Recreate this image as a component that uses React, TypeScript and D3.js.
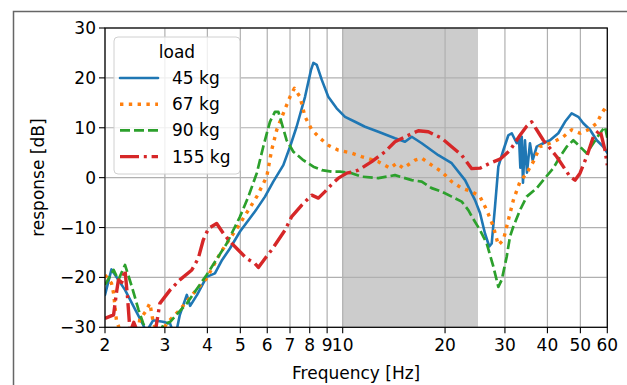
import React from "react";
import * as d3 from "d3";

// ---- data ----
const seriesNames = ["45 kg", "67 kg", "90 kg", "155 kg"];
const xTickValues = [2, 3, 4, 5, 6, 7, 8, 9, 10, 20, 30, 40, 50, 60];
const yTickValues = [-30, -20, -10, 0, 10, 20, 30];
const spanRange = [10, 25];

const load45: [number, number][] = [
  [2.0, -23.5], [2.09, -18.4], [2.29, -22.5], [2.59, -29.5], [2.64, -31], [2.77, -28.6],
  [2.96, -28.9], [3.11, -29.3], [3.17, -31], [3.24, -31], [3.32, -27.5], [3.48, -23.5],
  [3.56, -25.7], [3.73, -23.5], [3.98, -19.9], [4.21, -19.2], [4.42, -16.5], [4.66, -14.2],
  [4.99, -10.8], [5.52, -6.8], [5.91, -3.8], [6.25, -0.8], [6.69, 2.5], [7.0, 6.2],
  [7.32, 10.2], [7.75, 16.2], [8.07, 21.6], [8.2, 23.0], [8.39, 22.6], [8.68, 19.6],
  [9.07, 16.2], [9.6, 13.9], [10.16, 12.2], [10.87, 11.2], [11.63, 10.2], [12.73, 9.2],
  [14.25, 7.9], [15.25, 7.2], [15.96, 8.2], [17.08, 6.9], [19.11, 4.5], [20.92, 2.9],
  [22.9, -0.5], [24.5, -4.5], [25.34, -7.1], [26.21, -11.2], [26.98, -13.8], [27.43, -13.2],
  [28.05, -5.8], [28.69, 2.2], [29.68, 5.5], [30.7, 8.5], [31.42, 8.9], [32.5, 6.9],
  [33.0, 8.0], [33.3, 2.0], [33.62, 8.2], [33.9, -1.0], [34.36, 7.5], [34.83, 1.0],
  [35.54, 6.9], [36.2, 3.5], [37.2, 6.2], [38.9, 6.9], [40.7, 7.5], [43.06, 8.9],
  [45.06, 11.2], [47.15, 12.9], [49.3, 12.2], [51.0, 10.9], [53.37, 9.6], [55.85, 7.5],
  [58.4, 6.2], [60, 5.0],
];

const load67: [number, number][] = [
  [2.0, -19.5], [2.09, -21.2], [2.12, -23.2], [2.16, -28.5], [2.22, -31], [2.5, -31],
  [2.53, -28.5], [2.63, -26.9], [2.71, -25.2], [2.77, -28.8], [2.84, -31], [2.96, -30.5],
  [3.04, -29.2], [3.32, -26.5], [3.64, -23.2], [3.98, -20.2], [4.36, -15.2], [4.99, -9.2],
  [5.59, -3.8], [5.98, 0.2], [6.18, 5.5], [6.4, 9.6], [6.69, 12.9], [7.0, 16.2],
  [7.21, 17.9], [7.49, 16.2], [7.75, 12.2], [8.11, 9.6], [8.58, 7.9], [9.07, 6.5],
  [9.71, 5.5], [10.63, 4.9], [11.37, 4.2], [12.73, 3.2], [13.78, 1.9], [14.42, 2.9],
  [15.08, 1.9], [16.32, 3.5], [17.08, 3.9], [18.27, 2.5], [19.55, 1.2], [20.92, -0.8],
  [22.39, -2.1], [23.96, -2.8], [25.34, -3.8], [26.52, -6.5], [27.73, -9.8], [28.69, -13.5],
  [29.68, -12.5], [30.7, -8.5], [31.76, -4.5], [33.22, -0.8], [34.76, 0.9], [36.36, 3.2],
  [38.04, 6.2], [40.7, 6.9], [42.6, 7.5], [44.55, 8.2], [47.15, 9.6], [49.88, 8.9],
  [52.76, 9.6], [55.85, 10.9], [57.77, 12.9], [59.48, 14.2], [60, 13.5],
];

const load90: [number, number][] = [
  [2.0, -21.5], [2.12, -18.5], [2.19, -20.5], [2.29, -17.5], [2.4, -21.9], [2.51, -26.5],
  [2.59, -29.2], [2.66, -31], [2.9, -31], [2.97, -29.5], [3.11, -28.9], [3.48, -25.2],
  [3.98, -19.5], [4.56, -13.2], [4.99, -7.8], [5.28, -3.8], [5.59, 0.9], [5.84, 6.2],
  [6.11, 11.2], [6.32, 13.2], [6.47, 13.2], [6.62, 10.9], [6.84, 7.5], [7.16, 5.2],
  [7.66, 3.5], [8.2, 2.2], [8.68, 1.5], [9.28, 1.2], [9.82, 1.2], [10.63, 0.9],
  [11.37, 0.2], [12.73, -0.1], [14.25, 0.5], [15.96, -0.5], [17.08, -0.8], [18.27, -2.1],
  [19.55, -2.8], [20.92, -3.8], [22.39, -4.8], [23.41, -6.5], [24.22, -8.3], [25.34, -10.5],
  [26.52, -13.2], [27.73, -17.8], [28.69, -21.9], [29.36, -20.5], [30.37, -15.8], [31.05, -11.8],
  [31.76, -9.8], [33.22, -6.5], [34.76, -3.8], [37.2, -2.1], [38.9, -0.5], [41.62, 1.9],
  [43.56, 4.2], [45.58, 6.2], [47.66, 7.5], [49.88, 6.2], [52.19, 4.9], [54.58, 6.9],
  [57.1, 8.9], [59.07, 10.2], [60, 8.0],
];

const load155: [number, number][] = [
  [2.0, -28.2], [2.12, -27.5], [2.16, -23.2], [2.19, -20.5], [2.24, -21.0], [2.29, -18.5],
  [2.33, -24], [2.37, -31], [2.43, -29], [2.48, -30.5], [2.81, -31], [2.84, -29],
  [2.9, -25.2], [3.11, -22.5], [3.32, -20.5], [3.6, -18.5], [3.76, -16.2], [3.89, -12.5],
  [4.03, -10.2], [4.26, -9.2], [4.46, -11.2], [4.66, -12.8], [4.93, -14.5], [5.22, -16.2],
  [5.52, -17.2], [5.65, -18.0], [5.91, -16.2], [6.18, -14.5], [6.77, -10.5], [7.08, -7.8],
  [7.58, -5.5], [8.11, -3.5], [8.48, -4.1], [8.87, -2.8], [9.24, -1.5], [9.71, -0.1],
  [10.28, 0.9], [10.75, 1.2], [11.12, 1.5], [12.17, 3.2], [13.32, 5.2], [14.25, 7.2],
  [15.6, 8.5], [16.69, 9.4], [17.86, 9.2], [19.55, 7.9], [20.92, 6.2], [22.39, 4.5],
  [23.96, 1.8], [25.34, 1.9], [27.12, 2.9], [29.02, 3.7], [31.05, 5.5], [33.22, 8.5],
  [34.76, 10.3], [35.96, 11.2], [37.2, 9.6], [38.9, 7.5], [40.7, 5.9], [42.6, 4.2],
  [44.55, 2.2], [46.6, 0.2], [48.22, -0.5], [49.88, 0.9], [52.19, 4.2], [54.58, 8.2],
  [57.1, 9.6], [59.07, 5.5], [60, 2.5],
];

const seriesData = [load45, load67, load90, load155];
const colors = ["#1f77b4", "#ff7f0e", "#2ca02c", "#d62728"];
const widths = [2.6, 3.4, 2.7, 3.4];
const dashes = ["none", "3.4,5.4", "10,4", "19,4.8,3,4.8"];

const W = 627;
const H = 385;
const L = 105, R = 607.3, T = 28, B = 327.3;
const FONT = "DejaVu Sans, sans-serif";
const FS = 17;

export default function App() {
  const x = d3.scaleLog().domain([2, 60]).range([L, R]);
  const y = d3.scaleLinear().domain([-30, 30]).range([B, T]);
  const line = d3
    .line<[number, number]>()
    .x((d) => x(d[0]))
    .y((d) => y(d[1]))
    .curve(d3.curveLinear);

  const fmtY = (v: number) => (v < 0 ? "\u2212" + Math.abs(v) : String(v));

  return (
    <svg
      width={W}
      height={H}
      style={{ position: "absolute", left: 0, top: 0, background: "#fff" }}
      fontFamily={FONT}
    >
      <defs>
        <clipPath id="plotclip">
          <rect x={L} y={T} width={R - L} height={B - T} />
        </clipPath>
      </defs>
      {/* outer frame */}
      <path d={`M13.5,${H + 5} V11.5 H${W + 5}`} fill="none" stroke="#666" strokeWidth={1.5} />

      {/* span */}
      <rect
        x={x(spanRange[0])}
        y={T}
        width={x(spanRange[1]) - x(spanRange[0])}
        height={B - T}
        fill="#cccccc"
      />
      {/* grid */}
      {xTickValues.map((v) => (
        <line key={"gx" + v} x1={x(v)} x2={x(v)} y1={T} y2={B} stroke="#b0b0b0" strokeWidth={1.2} />
      ))}
      {yTickValues.map((v) => (
        <line key={"gy" + v} x1={L} x2={R} y1={y(v)} y2={y(v)} stroke="#b0b0b0" strokeWidth={1.2} />
      ))}

      {/* lines */}
      <g clipPath="url(#plotclip)">
        {seriesData.map((s, i) => (
          <path
            key={"s" + i}
            d={line(s) || ""}
            fill="none"
            stroke={colors[i]}
            strokeWidth={widths[i]}
            strokeDasharray={dashes[i]}
            strokeLinejoin="round"
            strokeLinecap={i === 0 ? "round" : "butt"}
          />
        ))}
      </g>

      {/* spines */}
      <rect x={L} y={T} width={R - L} height={B - T} fill="none" stroke="#000" strokeWidth={1.2} />

      {/* x ticks */}
      {xTickValues.map((v) => (
        <g key={"xt" + v}>
          <line x1={x(v)} x2={x(v)} y1={B} y2={B + 6} stroke="#000" strokeWidth={1.1} />
          <text x={x(v)} y={B + 24} textAnchor="middle" fontSize={FS} fill="#000">
            {v}
          </text>
        </g>
      ))}
      {/* y ticks */}
      {yTickValues.map((v) => (
        <g key={"yt" + v}>
          <line x1={L - 6} x2={L} y1={y(v)} y2={y(v)} stroke="#000" strokeWidth={1.1} />
          <text x={L - 9} y={y(v) + 6} textAnchor="end" fontSize={FS} fill="#000">
            {fmtY(v)}
          </text>
        </g>
      ))}

      {/* axis labels */}
      <text x={(L + R) / 2} y={379} textAnchor="middle" fontSize={FS} fill="#000">
        Frequency [Hz]
      </text>
      <text
        transform={`translate(44,${(T + B) / 2}) rotate(-90)`}
        textAnchor="middle"
        fontSize={FS}
        fill="#000"
      >
        response [dB]
      </text>

      {/* legend */}
      <g>
        <rect x={114} y={37} width={126} height={137} rx={4} fill="#fff" fillOpacity={0.8} stroke="#d0d0d0" strokeWidth={1} />
        <text x={177} y={58} textAnchor="middle" fontSize={FS} fill="#000">
          load
        </text>
        {seriesNames.map((n, i) => {
          const cy = 78 + i * 26.2;
          return (
            <g key={"lg" + i}>
              <line
                x1={120}
                x2={158}
                y1={cy}
                y2={cy}
                stroke={colors[i]}
                strokeWidth={widths[i]}
                strokeDasharray={dashes[i]}
                strokeLinecap={i === 0 ? "round" : "butt"}
              />
              <text x={172} y={cy + 6} fontSize={FS} fill="#000">
                {n}
              </text>
            </g>
          );
        })}
      </g>
    </svg>
  );
}
